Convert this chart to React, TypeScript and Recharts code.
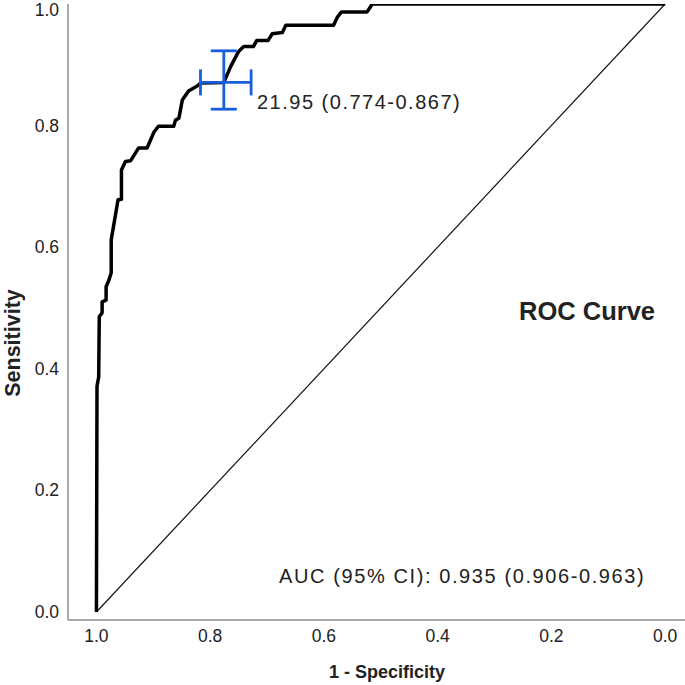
import { ComposedChart, Line, Scatter, ErrorBar, XAxis, YAxis, Customized } from 'recharts';

// ROC curve points (x = 1 - specificity, drawn on a reversed axis)
const oneMinusSpec = [
  1.0, 0.999, 0.996, 0.995, 0.99, 0.99, 0.983, 0.983, 0.978, 0.974, 0.974, 0.962, 0.956, 0.956,
  0.949, 0.94, 0.926, 0.911, 0.899, 0.891, 0.864, 0.861, 0.855, 0.849, 0.838, 0.823, 0.817, 0.776,
  0.764, 0.75, 0.741, 0.724, 0.718, 0.698, 0.691, 0.673, 0.667, 0.583, 0.576, 0.569, 0.524, 0.515, 0.0,
];
const sensitivity = [
  0.0, 0.371, 0.387, 0.486, 0.492, 0.51, 0.513, 0.535, 0.546, 0.558, 0.612, 0.678, 0.679, 0.727,
  0.741, 0.742, 0.763, 0.763, 0.789, 0.799, 0.799, 0.809, 0.812, 0.842, 0.857, 0.865, 0.87, 0.871,
  0.897, 0.922, 0.93, 0.93, 0.94, 0.94, 0.951, 0.953, 0.965, 0.965, 0.979, 0.987, 0.987, 1.0, 1.0,
];

// reference diagonal
const diagX = [1, 0];
const diagY = [0, 1];

// cut-off point with its confidence interval (lower / upper error)
const cutX = 0.776;
const cutY = 0.871;
const cutErrX = [0.048, 0.041];
const cutErrY = [0.044, 0.052];

const axisTicks = [0, 0.2, 0.4, 0.6, 0.8, 1.0];

const cutLabel = '21.95 (0.774-0.867)';
const aucLabel = 'AUC (95% CI): 0.935 (0.906-0.963)';

const rocData = oneMinusSpec.map((x, i) => ({ x, y: sensitivity[i] }));
const diagData = diagX.map((x, i) => ({ x, y: diagY[i] }));
const cutData = [{ x: cutX, y: cutY, ex: cutErrX, ey: cutErrY }];

const FONT = '"Liberation Sans", Arial, sans-serif';
const BLUE = '#1a5ee0';
const AXIS = '#8c8c8c';

const YTick = (props: any) => {
  const { x, y, payload } = props;
  return (
    <text x={x} y={Math.max(y, 10)} textAnchor="end" dominantBaseline="central"
      fontFamily={FONT} fontSize={17.5} fill="#222">
      {Number(payload.value).toFixed(1)}
    </text>
  );
};

const Annotations = () => (
  <g fontFamily={FONT} fill="#222">
    <text x={257} y={102} dominantBaseline="central" fontSize={20} letterSpacing={1.5}>{cutLabel}</text>
    <text x={279} y={576} dominantBaseline="central" fontSize={20} letterSpacing={1.6}>{aucLabel}</text>
    <text x={519} y={311} dominantBaseline="central" fontSize={25.5} fontWeight="bold">ROC Curve</text>
    <text x={387} y={672} textAnchor="middle" dominantBaseline="central" fontSize={18} fontWeight="bold">
      1 - Specificity
    </text>
    <text x={13} y={343} transform="rotate(-90, 13, 343)" textAnchor="middle" dominantBaseline="central"
      fontSize={21.5} fontWeight="bold">
      Sensitivity
    </text>
  </g>
);

export default function App() {
  return (
    <div style={{ position: 'absolute', left: 0, top: 0, width: 685, height: 685, background: '#fff' }}>
      <ComposedChart width={685} height={685} margin={{ top: 4, right: 0, bottom: 0, left: 0 }}>
        <XAxis
          type="number"
          dataKey="x"
          domain={[-0.035, 1.05]}
          reversed
          allowDataOverflow
          ticks={axisTicks}
          tickFormatter={(v: number) => v.toFixed(1)}
          height={65}
          tickLine={false}
          tickSize={0}
          tickMargin={10}
          axisLine={{ stroke: AXIS, strokeWidth: 1.5 }}
          tick={{ fontSize: 17.5, fill: '#222', fontFamily: FONT }}
        />
        <YAxis
          type="number"
          dataKey="y"
          domain={[-0.0132, 1]}
          allowDataOverflow
          ticks={axisTicks}
          width={68}
          tickLine={false}
          tickSize={0}
          tickMargin={9}
          axisLine={{ stroke: AXIS, strokeWidth: 1.5 }}
          tick={<YTick />}
        />
        <Line data={diagData} dataKey="y" type="linear" stroke="#111" strokeWidth={1.2}
          dot={false} activeDot={false} isAnimationActive={false} />
        <Line data={rocData} dataKey="y" type="linear" stroke="#000" strokeWidth={3.5}
          strokeLinejoin="round" dot={false} activeDot={false} isAnimationActive={false} />
        <Scatter data={cutData} dataKey="y" shape={() => <g />} isAnimationActive={false}>
          <ErrorBar dataKey="ex" direction="x" width={13} stroke={BLUE} strokeWidth={2.8} />
          <ErrorBar dataKey="ey" direction="y" width={13} stroke={BLUE} strokeWidth={2.8} />
        </Scatter>
        <Customized component={Annotations} />
      </ComposedChart>
    </div>
  );
}
